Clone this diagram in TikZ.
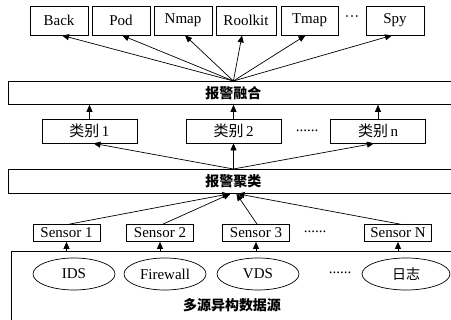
\documentclass[tikz,border=0pt]{standalone}
\usepackage{fontspec}
\setmainfont{Liberation Serif}
\newfontfamily\cjk{Noto Sans CJK SC}
\usetikzlibrary{arrows.meta,shapes.geometric}
\begin{document}
\begin{tikzpicture}[x=1pt,y=-1pt,
  lat/.style={font=\fontsize{15}{17}\selectfont},
  box/.style={draw, line width=0.8pt, inner sep=0pt, lat},
  topbox/.style={box, minimum height=29},
  catbox/.style={box, minimum width=95, minimum height=24},
  senbox/.style={box, minimum width=67, minimum height=17},
  band/.style={draw, line width=0.8pt, inner sep=0pt, anchor=north west, minimum width=450, font=\cjk\bfseries\fontsize{14}{16}\selectfont},
  src/.style={draw, ellipse, line width=0.7pt, inner sep=0pt, minimum width=82, minimum height=32, lat},
  arr/.style={-{Triangle[length=7pt,width=6pt]}, line width=0.7pt},
  dots/.style={lat, inner sep=0pt}
]
\clip (0,0) rectangle (451,320);
\useasboundingbox (0,0) rectangle (451,320);
% top attack boxes
\node[topbox, minimum width=58] (back) at (59,20.5) {Back};
\node[topbox, minimum width=58] (pod) at (121,20.5) {Pod};
\node[topbox, minimum width=58] (nmap) at (183,20.5) {Nmap};
\node[topbox, minimum width=60] (rool) at (246,20.5) {Roolkit};
\node[topbox, minimum width=57] (tmap) at (309.5,20.5) {Tmap};
\node[dots] (tdots) at (352,19) {···};
\node[topbox, minimum width=58] (spy) at (395,20.5) {Spy};
% fusion band
\node[band, minimum height=23] (fuse) at (8,81) {报警融合};
% categories
\node[catbox] (c1) at (89.5,131) {\cjk 类别\,\rmfamily 1};
\node[catbox] (c2) at (233.5,131) {\cjk 类别\,\rmfamily 2};
\node[dots] (cdots) at (307,131) {......};
\node[catbox] (cn) at (378,131) {\cjk 类别\,\rmfamily n};
% cluster band
\node[band, minimum height=24] (clus) at (8,169) {报警聚类};
% sensors
\node[senbox] (s1) at (66.5,233) {Sensor 1};
\node[senbox] (s2) at (160,233) {Sensor 2};
\node[senbox] (s3) at (256,233) {Sensor 3};
\node[dots] (sdots) at (315,232) {......};
\node[senbox] (sn) at (398,233) {Sensor N};
% source region
\node[draw, line width=0.8pt, anchor=north west, minimum width=460, minimum height=90, inner sep=0pt] (srcbox) at (11,251) {};
\node[src] (ids) at (74,274) {IDS};
\node[src] (fw) at (165,274) {Firewall};
\node[src] (vds) at (258,274) {VDS};
\node[dots] (edots) at (340,273) {......};
\node[src, minimum width=88, font=\cjk\fontsize{14}{16}\selectfont] (log) at (406,274) {日志};
\node[font=\cjk\bfseries\fontsize{14}{16}\selectfont] (srclab) at (232,305) {多源异构数据源};
% arrows: fusion to attacks
\foreach \t/\dx in {back/3, pod/1, nmap/2, rool/-4, tmap/-4, spy/-3}
  \draw[arr] (fuse.north) -- ([xshift=\dx]\t.south);
% categories to fusion
\foreach \c in {c1,c2,cn}
  \draw[arr] (\c.north) -- (\c.north |- fuse.south);
% cluster to categories
\draw[arr] (clus.north) -- ([xshift=4]c1.south);
\draw[arr] (clus.north) -- (c2.south);
\draw[arr] (clus.north) -- ([xshift=-4]cn.south);
% sensors to cluster
\draw[arr] ([xshift=3]s1.north) -- ([xshift=-4]clus.south);
\draw[arr] ([xshift=3]s2.north) -- ([xshift=-3]clus.south);
\draw[arr] ([xshift=1]s3.north) -- ([xshift=3]clus.south);
\draw[arr] ([xshift=2]sn.north) -- ([xshift=4]clus.south);
% sources to sensors
\foreach \s in {s1,s2,s3,sn}
  \draw[arr] (\s.south |- srcbox.north) -- (\s.south);
\end{tikzpicture}
\end{document}
